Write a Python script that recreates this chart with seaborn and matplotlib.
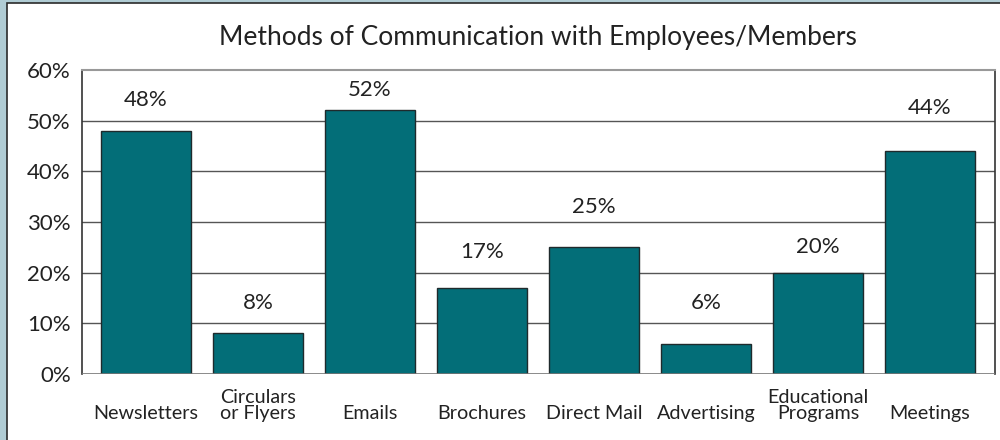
import matplotlib
matplotlib.use("Agg")
import matplotlib.pyplot as plt
from matplotlib.patches import Rectangle
import seaborn as sns
import pandas as pd

# Survey results: share of respondents using each communication method
categories = ["Newsletters", "Circulars\nor Flyers", "Emails", "Brochures",
              "Direct Mail", "Advertising", "Educational\nPrograms", "Meetings"]
percentages = [48, 8, 52, 17, 25, 6, 20, 44]
value_labels = ["48%", "8%", "52%", "17%", "25%", "6%", "20%", "44%"]
label_heights = [54, 14, 56, 24, 33, 14, 25, 52.5]
y_ticks = [0, 10, 20, 30, 40, 50, 60]
y_tick_labels = ["0%", "10%", "20%", "30%", "40%", "50%", "60%"]
title = "Methods of Communication with Employees/Members"

bar_color = "#036e78"
frame_color = "#b0ccd4"
font = "Lato"

sns.set_theme(style="white")
plt.rcParams["font.family"] = [font, "DejaVu Sans"]

df = pd.DataFrame({"method": categories, "pct": percentages})

fig = plt.figure(figsize=(10, 4.4), dpi=100, facecolor=frame_color)
# white panel with a thin dark outline inside the coloured frame
panel = Rectangle((0.0065, -0.01), 1.0, 1.0 - 0.0068 + 0.01,
                  transform=fig.transFigure, facecolor="white",
                  edgecolor="#2a2a2a", linewidth=1.2, zorder=-10)
fig.patches.append(panel)

ax = fig.add_axes([0.082, 0.15, 0.913, 0.691])
ax.set_facecolor("white")

sns.barplot(data=df, x="method", y="pct", ax=ax, color=bar_color,
            saturation=1, width=0.8, edgecolor="#1f2a2c", linewidth=1.0,
            zorder=3)

ax.set_xlim(-0.57, 7.58)
ax.set_ylim(0, 60)
ax.set_yticks(y_ticks)
ax.set_yticklabels(y_tick_labels, fontsize=16, color="#222222")
ax.tick_params(axis="y", length=0, pad=8)
ax.tick_params(axis="x", length=0, pad=34.5)
for lbl in ax.get_xticklabels():
    lbl.set_fontsize(14.2)
    lbl.set_color("#222222")
    lbl.set_va("bottom")
    lbl.set_multialignment("center")
    lbl.set_linespacing(0.92)
ax.set_xlabel("")
ax.set_ylabel("")

# horizontal grid lines
for t in y_ticks[1:-1]:
    ax.axhline(t, color="#555555", linewidth=1.0, zorder=1)
ax.axhline(0, color="#777777", linewidth=1.2, zorder=4)

for side in ["left", "right"]:
    ax.spines[side].set_visible(True)
    ax.spines[side].set_color("#333333")
    ax.spines[side].set_linewidth(1.2)
ax.spines["top"].set_color("#999999")
ax.spines["top"].set_linewidth(1.5)
ax.spines["bottom"].set_visible(False)

for i, (lab, h) in enumerate(zip(value_labels, label_heights)):
    ax.text(i, h, lab, ha="center", va="center", fontsize=16,
            color="#222222", zorder=5)

fig.text(0.538, 0.914, title, ha="center", va="center", fontsize=19,
         color="#222222")

fig.savefig("out.png", dpi=100, facecolor=fig.get_facecolor())
